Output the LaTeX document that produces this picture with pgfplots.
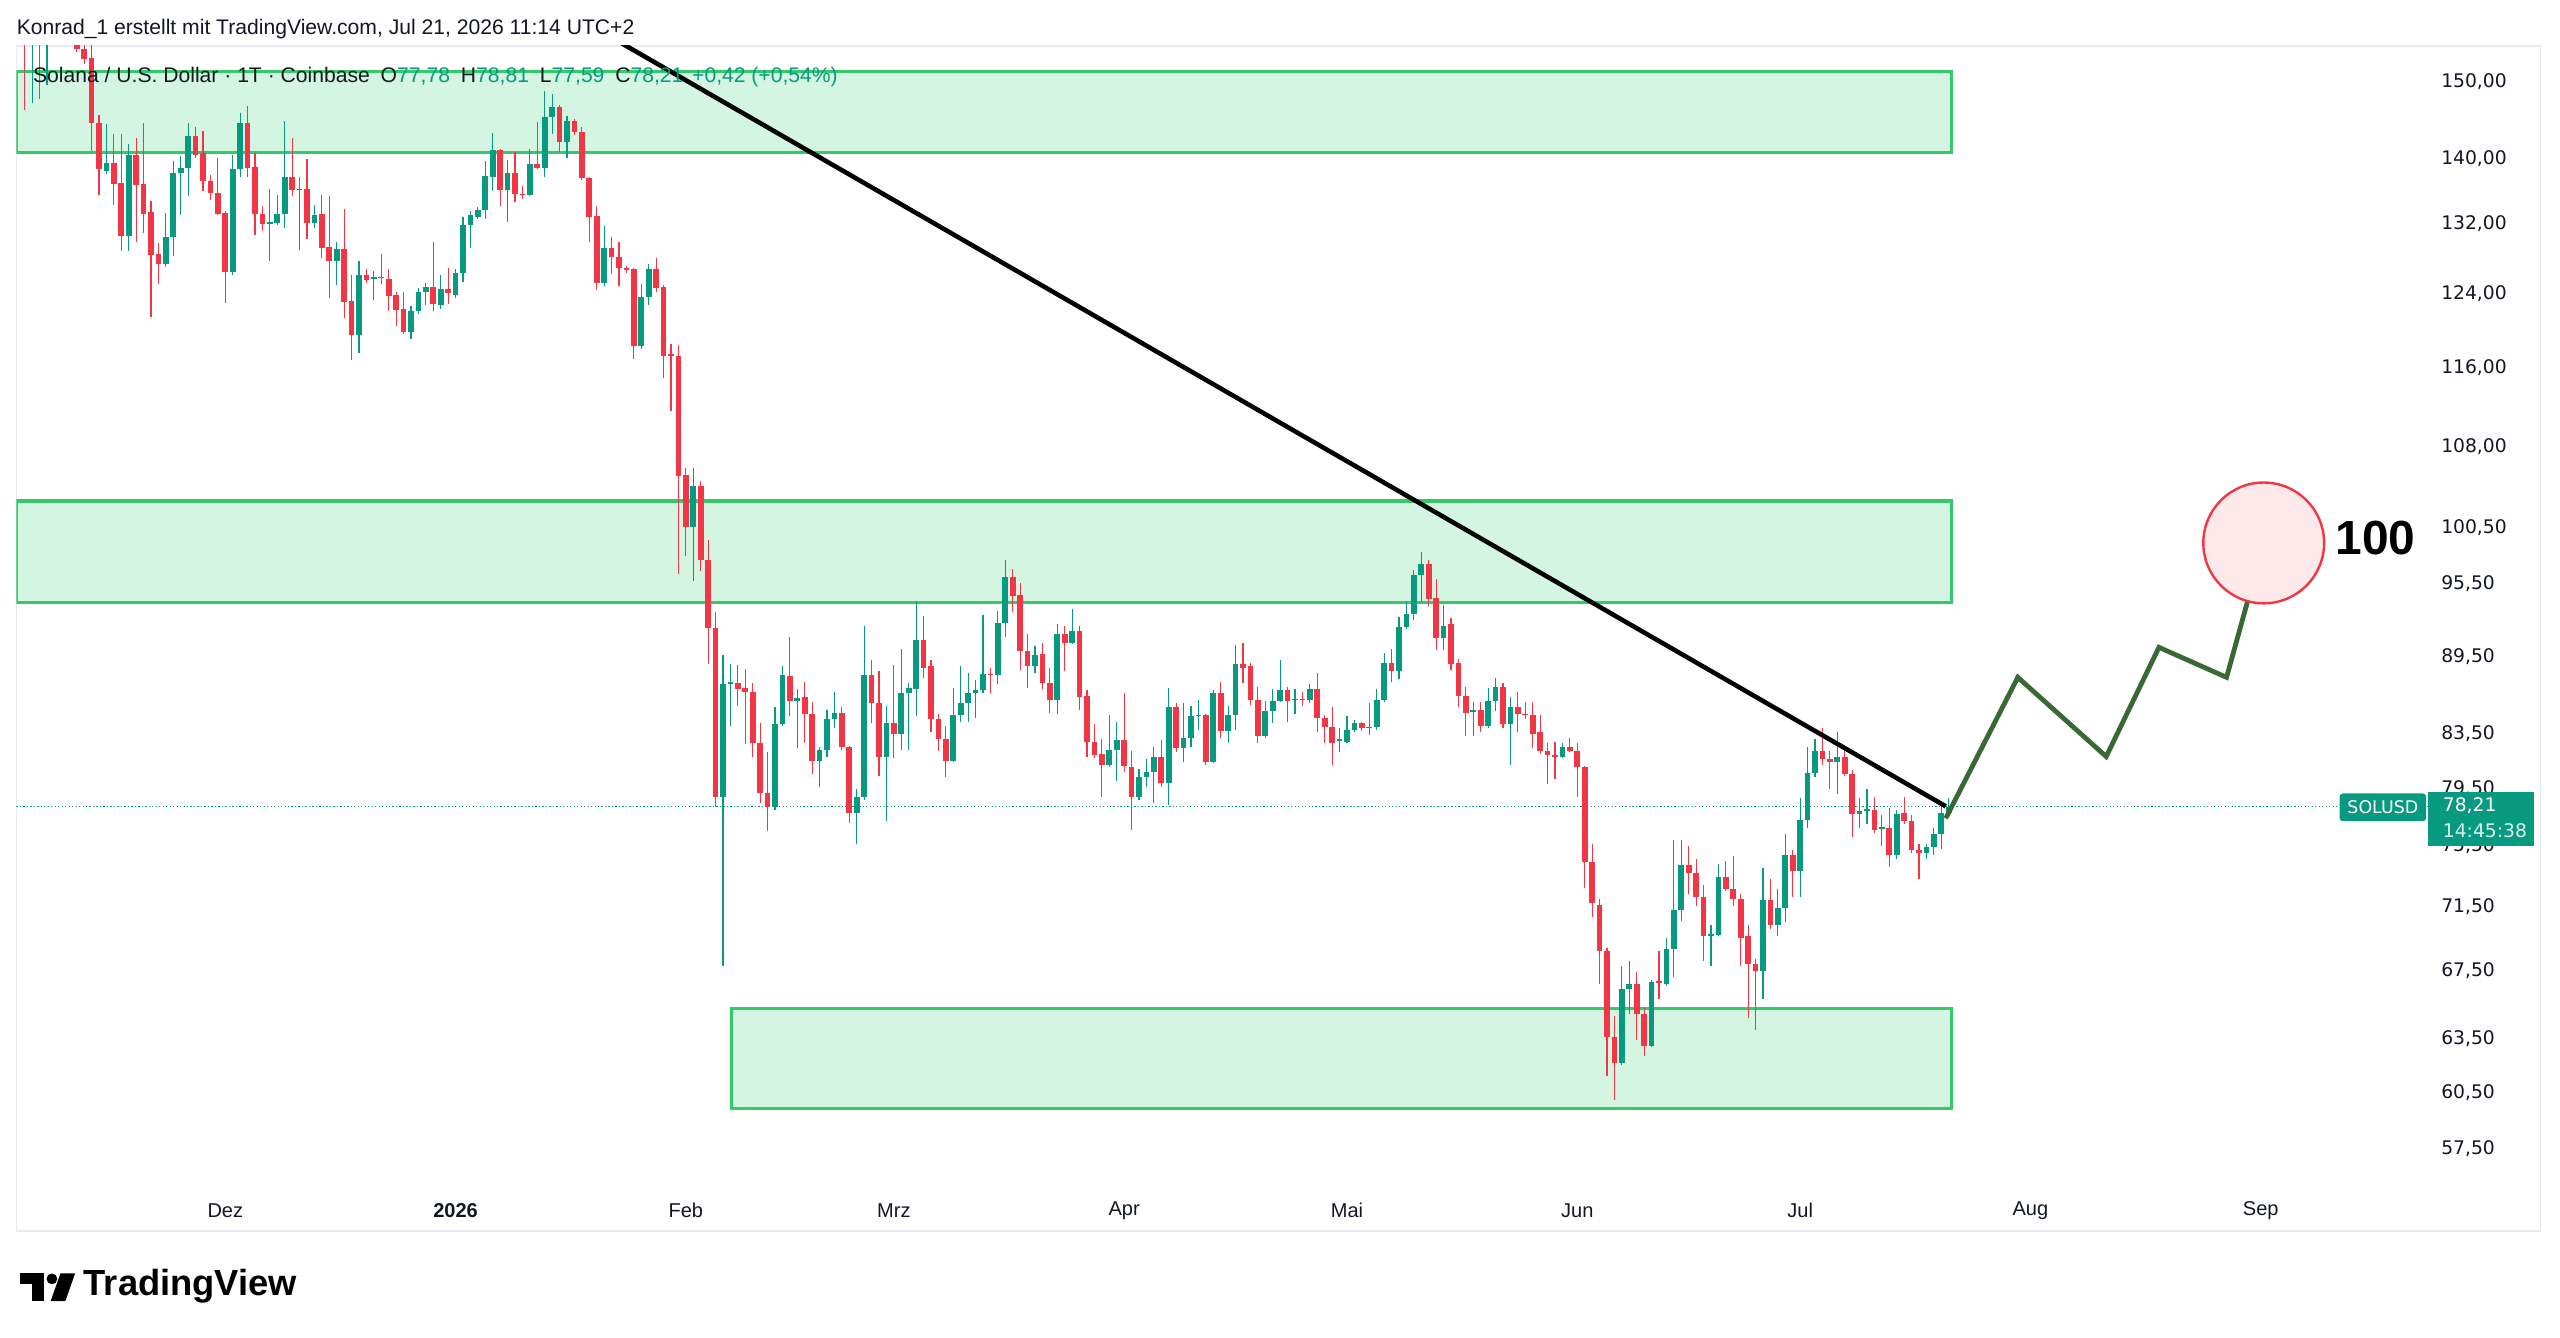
\documentclass[border=0pt]{standalone}
\usepackage{graphicx}
\usepackage{pgfplots}
\pgfplotsset{compat=1.18}
\usepackage{pgfplotstable}
\usepackage{fontspec}
\setmainfont{Liberation Sans}
\newfontfamily\dejavu{DejaVu Sans}
\definecolor{tvgreen}{RGB}{8,153,129}
\definecolor{tvred}{RGB}{242,54,69}
\definecolor{tvtext}{RGB}{19,23,34}
\definecolor{zonefill}{RGB}{212,245,226}
\definecolor{zoneline}{RGB}{52,201,106}
\definecolor{pathgreen}{RGB}{56,104,52}
\definecolor{circfill}{RGB}{253,232,234}
\definecolor{framegray}{RGB}{232,234,240}

\pgfplotstableread{
d o h l c
-27 160.0 164.0 146.2 157.0
-26 155.0 161.0 147.1 158.5
-25 159.0 162.5 147.6 156.0
-24 155.5 161.0 149.5 159.0
-23 160.0 164.0 156.5 158.0
-22 158.0 163.0 156.0 161.0
-21 161.0 163.0 155.8 156.5
-20 156.5 158.0 154.0 154.4
-19 154.4 156.0 152.4 153.1
-18 153.2 155.5 140.9 144.5
-17 144.5 145.5 135.5 138.6
-16 138.4 144.4 138.0 139.4
-15 139.4 143.1 134.2 136.8
-14 136.9 143.1 128.8 130.6
-13 130.6 141.8 128.8 140.4
-12 140.4 142.6 129.9 136.7
-11 136.8 144.5 130.9 133.2
-10 133.4 134.7 121.4 128.3
-9 128.4 129.7 125.0 127.3
-8 127.3 133.3 127.0 130.4
-7 130.4 139.7 128.2 138.1
-6 138.1 140.3 133.0 138.8
-5 138.8 144.5 135.3 142.8
-4 142.8 144.0 140.0 140.4
-3 140.7 143.4 135.9 137.1
-2 137.1 137.9 134.8 135.7
-1 135.7 140.0 133.0 133.2
0 133.3 133.5 122.9 126.4
1 126.4 140.4 126.0 138.6
2 138.6 145.8 137.6 144.5
3 144.5 146.7 137.6 138.8
4 138.9 140.7 130.7 133.1
5 133.2 134.1 131.1 132.0
6 132.0 136.2 127.6 132.2
7 132.1 135.5 131.9 133.2
8 133.1 144.8 131.5 137.7
9 137.7 142.5 135.3 136.0
10 136.0 137.7 128.9 136.2
11 136.2 139.9 130.2 132.1
12 132.1 134.2 131.5 133.0
13 133.1 135.4 128.0 129.1
14 129.3 135.3 123.5 127.6
15 127.6 129.9 124.9 129.0
16 129.0 133.8 121.3 123.0
17 123.2 126.0 116.8 119.4
18 119.4 127.7 117.5 126.1
19 126.1 126.7 125.1 125.5
20 125.6 126.5 123.3 125.8
21 125.8 128.5 125.0 125.7
22 125.6 126.7 122.0 123.7
23 123.8 124.2 120.4 122.2
24 122.3 124.2 119.5 119.8
25 119.8 122.6 119.0 122.0
26 122.0 124.6 121.7 124.2
27 124.1 125.2 122.7 124.7
28 124.7 129.8 122.0 122.8
29 122.7 126.0 122.3 124.5
30 124.5 126.8 122.8 124.0
31 123.8 126.7 123.5 126.3
32 126.3 132.8 125.3 131.9
33 131.8 133.5 129.2 133.0
34 132.8 134.0 132.5 133.6
35 133.6 139.7 132.6 137.8
36 137.7 143.2 135.9 141.0
37 141.0 141.2 134.1 136.0
38 136.0 139.8 132.2 138.2
39 138.2 140.8 134.6 135.6
40 135.6 136.6 135.0 135.4
41 135.4 141.2 135.3 139.3
42 139.3 144.6 138.6 138.8
43 138.8 148.7 137.6 145.3
44 145.3 148.3 143.1 146.6
45 146.6 146.8 140.8 142.1
46 142.1 145.4 140.0 144.7
47 144.7 145.0 143.0 143.3
48 143.3 144.0 137.3 137.5
49 137.5 137.6 129.9 132.8
50 132.9 134.1 124.4 125.2
51 125.2 131.7 124.8 129.2
52 129.2 130.4 126.2 128.1
53 128.1 129.9 124.8 126.8
54 126.8 127.1 126.3 126.6
55 126.7 126.9 116.9 118.3
56 118.3 125.0 118.0 123.6
57 123.6 127.3 122.7 126.7
58 126.7 128.0 124.2 124.6
59 124.7 124.9 114.9 117.2
60 117.4 118.5 111.6 117.2
61 117.2 118.4 96.4 105.2
62 105.3 106.0 97.9 100.5
63 100.5 106.0 95.8 104.3
64 104.3 104.8 96.6 97.6
65 97.6 99.4 88.9 91.8
66 91.8 93.1 78.2 78.9
67 78.9 89.6 67.8 87.3
68 87.3 88.9 84.1 87.45
69 87.4 88.8 85.6 86.9
70 87.0 88.5 82.7 86.7
71 86.7 87.4 81.8 82.8
72 82.8 84.3 78.5 79.2
73 79.2 82.1 76.5 78.2
74 78.2 85.5 78.0 84.2
75 84.2 88.7 84.1 88.0
76 87.9 91.1 84.8 86.0
77 86.0 86.9 82.4 86.2
78 86.3 87.5 82.8 85.0
79 85.0 85.9 80.5 81.5
80 81.5 82.5 79.6 82.3
81 82.3 85.3 81.8 84.6
82 84.6 86.7 83.9 85.1
83 85.1 85.5 82.3 82.5
84 82.5 82.6 77.1 77.8
85 77.8 79.5 75.6 78.9
86 78.9 92.0 78.7 88.0
87 88.0 89.2 84.3 85.8
88 85.8 88.3 80.4 81.8
89 81.8 85.6 77.2 84.3
90 84.3 88.8 81.7 83.5
91 83.5 90.1 82.3 86.6
92 86.6 87.4 82.3 87.0
93 86.9 94.1 84.8 90.8
94 90.8 92.8 87.8 88.6
95 88.7 89.2 83.6 84.6
96 84.6 85.0 82.2 83.1
97 83.1 84.1 80.3 81.5
98 81.5 87.0 81.4 84.9
99 84.9 88.7 84.4 85.8
100 85.8 88.2 84.4 86.6
101 86.6 87.6 84.7 86.8
102 86.8 92.9 86.6 88.1
103 88.1 88.6 86.6 88.0
104 88.0 93.2 87.3 92.2
105 92.2 97.6 91.1 96.1
106 96.1 96.8 93.1 94.5
107 94.6 95.6 88.4 89.9
108 89.9 91.3 87.0 88.7
109 88.7 90.3 88.2 89.6
110 89.7 90.6 86.9 87.4
111 87.4 88.6 85.1 86.1
112 86.1 92.1 85.0 91.3
113 91.3 92.0 88.3 90.6
114 90.6 93.4 90.5 91.6
115 91.6 92.0 85.3 86.3
116 86.4 86.8 81.8 82.9
117 82.9 84.2 81.7 81.9
118 82.0 83.1 78.9 81.2
119 81.2 84.9 81.0 82.3
120 82.3 84.4 80.0 83.0
121 83.0 86.6 80.7 81.1
122 81.0 82.2 76.6 78.9
123 78.9 80.9 78.7 80.3
124 80.3 81.6 79.6 80.7
125 80.7 82.5 78.5 81.8
126 81.8 83.0 79.6 79.9
127 79.9 87.0 78.3 85.5
128 85.5 85.8 82.1 82.4
129 82.4 85.8 81.4 83.2
130 83.2 85.6 82.5 84.8
131 84.8 86.1 83.8 84.9
132 84.9 85.0 81.2 81.4
133 81.4 86.8 81.3 86.6
134 86.6 87.5 83.2 83.7
135 83.7 85.6 82.8 84.9
136 84.9 90.4 83.8 88.9
137 88.9 90.6 87.4 88.6
138 88.7 89.0 85.7 86.1
139 86.1 87.1 82.8 83.3
140 83.3 86.0 83.2 85.2
141 85.2 86.9 84.3 86.0
142 86.0 89.2 85.9 86.8
143 86.8 87.1 84.4 86.0
144 86.05 86.9 85.0 86.15
145 86.15 86.7 85.6 86.05
146 86.1 87.3 85.8 86.9
147 86.9 88.2 83.6 84.7
148 84.7 84.9 82.8 84.0
149 84.0 85.5 81.2 82.8
150 82.95 83.9 82.1 83.05
151 82.9 84.8 82.8 83.8
152 83.8 84.5 83.6 84.3
153 84.3 84.4 83.7 83.9
154 83.9 85.8 83.4 84.0
155 84.0 86.9 83.8 86.1
156 86.1 89.8 85.9 89.0
157 89.0 90.1 87.5 88.3
158 88.3 92.7 87.7 91.9
159 91.9 94.1 91.7 93.0
160 93.0 96.7 92.5 96.3
161 96.3 98.3 94.0 97.2
162 97.2 97.6 93.6 94.2
163 94.3 95.9 90.0 91.0
164 91.0 93.7 90.0 92.0
165 92.1 92.6 88.4 88.9
166 89.0 89.3 85.5 86.4
167 86.4 87.1 83.3 85.1
168 85.15 85.9 83.3 85.25
169 85.3 85.9 83.6 84.1
170 84.1 87.0 83.9 86.0
171 86.0 87.8 85.2 87.1
172 87.1 87.4 83.9 84.2
173 84.2 86.3 81.2 85.5
174 85.5 86.7 83.6 85.0
175 85.0 85.9 84.6 84.9
176 84.9 85.9 82.4 83.5
177 83.6 84.9 82.0 82.2
178 82.2 82.8 79.8 81.9
179 81.9 82.9 80.2 81.8
180 81.8 82.8 81.7 82.5
181 82.5 83.2 82.1 82.2
182 82.2 82.8 78.9 81.0
183 81.0 81.1 72.7 74.4
184 74.4 75.6 70.8 71.7
185 71.6 72.0 66.7 68.7
186 68.7 68.9 61.4 63.6
187 63.6 64.8 60.1 62.1
188 62.1 67.8 62.0 66.4
189 66.4 68.1 64.9 66.7
190 66.7 67.4 63.4 64.9
191 64.9 65.3 62.5 63.1
192 63.1 66.9 63.0 66.8
193 66.85 68.7 65.8 66.75
194 66.7 69.5 66.6 68.8
195 68.8 75.9 67.1 71.3
196 71.3 75.9 70.6 74.2
197 74.2 75.5 72.3 73.7
198 73.7 74.6 71.5 72.1
199 72.1 72.9 68.1 69.6
200 69.65 70.3 67.8 69.75
201 69.7 74.3 69.6 73.4
202 73.4 74.5 72.5 72.6
203 72.6 74.8 71.5 72.0
204 72.0 72.3 67.8 69.5
205 69.6 70.3 64.7 67.9
206 67.9 68.2 64.0 67.5
207 67.5 74.0 65.8 71.9
208 71.9 73.3 70.1 70.3
209 70.3 72.6 69.6 71.4
210 71.4 76.3 70.5 74.9
211 74.9 75.2 72.1 73.8
212 73.8 78.8 72.1 77.3
213 77.3 82.5 76.7 80.6
214 80.6 83.1 80.3 82.2
215 82.2 83.9 81.2 81.6
216 81.6 82.2 79.5 81.4
217 81.4 83.6 79.1 81.8
218 81.8 82.6 80.4 80.5
219 80.5 80.8 76.1 77.7
220 77.7 78.8 76.7 77.9
221 77.9 79.5 77.0 78.0
222 78.0 78.9 76.4 76.6
223 76.65 77.6 75.5 76.75
224 76.7 78.1 74.1 74.9
225 74.9 78.0 74.6 77.7
226 77.8 78.9 77.0 77.2
227 77.2 77.6 75.0 75.2
228 75.2 75.6 73.3 75.0
229 75.0 75.6 74.6 75.4
230 75.4 76.7 74.9 76.3
231 76.3 78.3 75.3 77.8
232 77.78 78.81 77.59 78.21
}\candles

\begin{document}
\begin{tikzpicture}
\useasboundingbox (0,0) rectangle (1176pt,-614.25pt);
\fill[white] (0,0) rectangle (1176pt,-614.25pt);
\begin{scope}[x=0.75pt,y=-0.75pt]
\draw[framegray, line width=0.75pt] (10,28) rectangle (1556,754);
\end{scope}
\begin{axis}[
  at={(7.5pt,-544.5pt)}, anchor=south west,
  scale only axis, width=1107.75pt, height=523.5pt,
  xmin=-28.132, xmax=296.484,
  ymode=log, ymin=55.66, ymax=154.89,
  axis line style={draw=none},
  major tick length=0pt, minor tick length=0pt, yminorticks=false,
  xtick={0,31,62,90,121,151,182,212,243,274},
  xticklabels={Dez,\textbf{2026},Feb,Mrz,Apr,Mai,Jun,Jul,Aug,Sep},
  xticklabel style={anchor=center, inner sep=0pt, yshift=-11.5pt, font=\fontsize{9.2}{10}\selectfont, text=tvtext},
  ytick={57.5,60.5,63.5,67.5,71.5,75.5,79.5,83.5,89.5,95.5,100.5,108,116,124,132,140,150},
  yticklabels={{57,50},{60,50},{63,50},{67,50},{71,50},{75,50},{79,50},{83,50},{89,50},{95,50},{100,50},{108,00},{116,00},{124,00},{132,00},{140,00},{150,00}},
  yticklabel pos=right,
  yticklabel style={anchor=west, inner sep=0pt, xshift=6pt, font=\dejavu\fontsize{8.6}{10}\selectfont, text=tvtext},
  clip=true,
  candle/.style={draw=none, no markers, forget plot,
    error bars/y dir=plus, error bars/y explicit, error bars/error mark=none},
]
% zones
\addplot[fill=zonefill, draw=zoneline, line width=1.5pt] coordinates {(-28.132,151.33) (232.4,151.33) (232.4,140.73) (-28.132,140.73)} -- cycle;
\addplot[fill=zonefill, draw=zoneline, line width=1.5pt] coordinates {(-28.132,102.91) (232.4,102.91) (232.4,93.96) (-28.132,93.96)} -- cycle;
\addplot[fill=zonefill, draw=zoneline, line width=1.5pt] coordinates {(68.13,65.22) (232.4,65.22) (232.4,59.64) (68.13,59.64)} -- cycle;
% last price line
\addplot[tvgreen, densely dotted, line width=0.6pt] coordinates {(-28.132,78.21) (296.484,78.21)};
% wicks
\addplot[candle,
  restrict expr to domain={\thisrow{c}-\thisrow{o}}{0:1000},
  error bars/error bar style={draw=tvgreen, line width=0.55pt}]
  table[x=d, y=l, y error expr={\thisrow{h}-\thisrow{l}}] {\candles};
\addplot[candle,
  restrict expr to domain={\thisrow{c}-\thisrow{o}}{-1000:-0.00001},
  error bars/error bar style={draw=tvred, line width=0.55pt}]
  table[x=d, y=l, y error expr={\thisrow{h}-\thisrow{l}}] {\candles};
% bodies
\addplot[candle,
  restrict expr to domain={\thisrow{c}-\thisrow{o}}{0:1000},
  error bars/error bar style={draw=tvgreen, line width=2.6pt}]
  table[x=d, y=o, y error expr={max(\thisrow{c}-\thisrow{o},0.12)}] {\candles};
\addplot[candle,
  restrict expr to domain={\thisrow{c}-\thisrow{o}}{-1000:-0.00001},
  error bars/error bar style={draw=tvred, line width=2.6pt}]
  table[x=d, y=c, y error expr={max(\thisrow{o}-\thisrow{c},0.12)}] {\candles};
% trendline
\addplot[black, line width=2.1pt] coordinates {(50.8,156.75) (231.6,78.23)};
% target circle
\addplot[only marks, mark=*, mark size=27.75pt, mark options={draw=tvred, fill=circfill, line width=1.1pt}] coordinates {(274.4,99.1)};
% projected path
\addplot[pathgreen, line width=2.2pt, line join=miter] coordinates {(231.6,77.4) (241.3,87.83) (253.2,81.8) (260.3,90.23) (269.4,87.83) (274.4,99.1)};
\end{axis}
\begin{scope}[x=0.75pt,y=-0.75pt]
\node[anchor=west, inner sep=0pt, text=tvtext, font=\fontsize{9.7}{11}\selectfont] at (10,17.5) {Konrad\_1 erstellt mit TradingView.com, Jul 21, 2026 11:14 UTC+2};
\node[anchor=west, inner sep=0pt, text=tvtext, font=\fontsize{9.7}{11}\selectfont] at (20,47) {Solana / U.S. Dollar · 1T · Coinbase\hspace{5pt}O\textcolor{tvgreen}{77,78}\hspace{5pt}H\textcolor{tvgreen}{78,81}\hspace{5pt}L\textcolor{tvgreen}{77,59}\hspace{5pt}C\textcolor{tvgreen}{78,21}\hspace{4pt}\textcolor{tvgreen}{+0,42 (+0,54\%)}};
% price labels
\fill[tvgreen, rounded corners=1.5pt] (1433,486) rectangle (1486,503);
\node[text=white, inner sep=0pt, font=\dejavu\fontsize{8}{9}\selectfont] at (1459.5,494.5) {SOLUSD};
\fill[tvgreen] (1487,485) rectangle (1552,518);
\node[anchor=west, text=white, inner sep=0pt, font=\dejavu\fontsize{8.6}{10}\selectfont] at (1496,493.5) {78,21};
\node[anchor=west, text=white, opacity=0.85, inner sep=0pt, font=\dejavu\fontsize{8.6}{10}\selectfont] at (1496,509) {14:45:38};
% target text
\node[font=\bfseries\fontsize{22}{24}\selectfont, text=black] at (1455,329.5) {100};
% logo
\fill[black] (12,780) rectangle (27,786.5);
\fill[black] (19.5,780) rectangle (27,797);
\fill[black] (31.8,783.3) circle (3.3);
\fill[black] (37,780) -- (46,780) -- (40,797) -- (31,797) -- cycle;
\node[anchor=west, inner sep=0pt] at (51,788) {\resizebox{98pt}{!}{\bfseries TradingView}};
\end{scope}
\end{tikzpicture}
\end{document}
